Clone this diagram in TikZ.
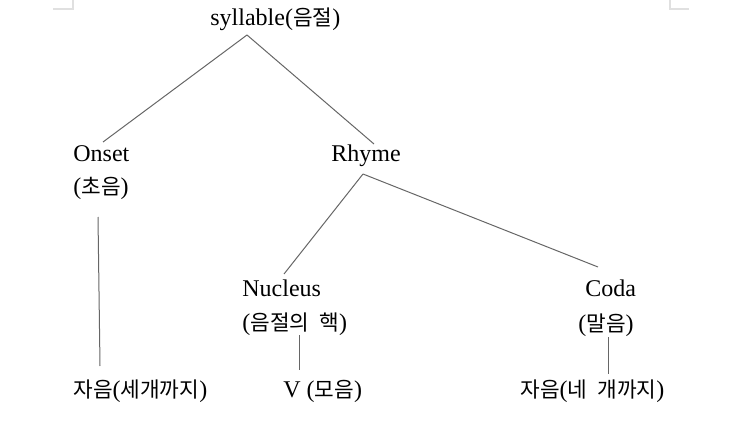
\documentclass[tikz,border=0pt]{standalone}
\usepackage{fontspec}
\setmainfont{Liberation Serif}
\newfontfamily\kr[Scale=0.89]{Noto Sans CJK KR}
\usetikzlibrary{calc}

\begin{document}
\begin{tikzpicture}[x=0.5pt,y=-0.5pt,
    word/.style={inner sep=0pt, anchor=base west, font=\fontsize{12}{14}\selectfont},
    branch/.style={draw=black!60, line width=0.5pt}]
  \useasboundingbox (0,0) rectangle (743,422);

  % Page corner marks
  \draw[black!12, line width=0.8pt] (53,9) -- (73,9) -- (73,0);
  \draw[black!12, line width=0.8pt] (689,9) -- (670,9) -- (670,0);

  % Levels of the tree
  \node[word] (syl)       at (210,26)  {syllable({\kr 음절})};
  \node[word] (onset)     at (73,162)  {Onset};
  \node[word] (onsetkr)   at (73,195)  {({\kr 초음})};
  \node[word] (rhyme)     at (331,162) {Rhyme};
  \node[word] (nucleus)   at (242,296) {Nucleus};
  \node[word] (nucleuskr) at (242,330) {({\kr 음절의}\hspace{5pt}{\kr 핵})};
  \node[word] (coda)      at (585,296) {Coda};
  \node[word] (codakr)    at (578,331) {({\kr 말음})};
  \node[word] (cons1)     at (73,397)  {{\kr 자음}({\kr 세개까지})};
  \node[word] (vowel)     at (283,397) {V ({\kr 모음})};
  \node[word] (cons2)     at (520,397) {{\kr 자음}({\kr 네}\hspace{5pt}{\kr 개까지})};

  % Branches
  \draw[branch] ($(syl.base west)+(37,9)$) -- ($(onset.base west)+(30,-20)$);
  \draw[branch] ($(syl.base west)+(37,9)$) -- ($(rhyme.base west)+(43,-18)$);
  \draw[branch] ($(rhyme.base west)+(32,12)$) -- ($(nucleus.base west)+(42,-22)$);
  \draw[branch] ($(rhyme.base west)+(32,12)$) -- ($(coda.base west)+(13,-29)$);

  % Down to the segments
  \draw[branch] ($(onsetkr.base west)+(25,22)$) -- ($(cons1.base west)+(27,-31)$);
  \draw[branch] ($(nucleuskr.base west)+(57,5)$) -- ($(vowel.base west)+(16,-27)$);
  \draw[branch] ($(codakr.base west)+(30,6)$) -- ($(cons2.base west)+(88,-23)$);
\end{tikzpicture}
\end{document}
